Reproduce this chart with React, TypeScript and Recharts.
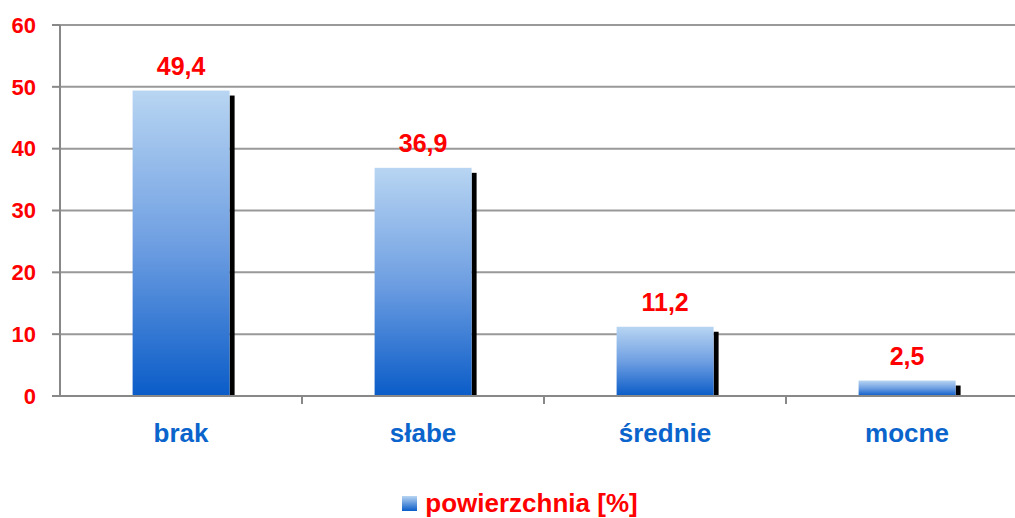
import { ComposedChart, Bar, XAxis, YAxis, CartesianGrid, LabelList, Legend } from 'recharts'

const categories = ['brak', 'słabe', 'średnie', 'mocne']
const values = [49.4, 36.9, 11.2, 2.5]
const yTicks = [0, 10, 20, 30, 40, 50, 60]
const seriesName = 'powierzchnia [%]'

const data = categories.map((name, i) => ({ name, value: values[i] }))

const CHART_W = 1028
const CHART_H = 518
const Y_AXIS_W = 60
const BAND = (CHART_W - Y_AXIS_W) / categories.length
const FONT = '"Liberation Sans", Arial, sans-serif'

function ShadowBar(props: any) {
  const { x, y, width, height } = props
  if (!height || height <= 0) return null
  const sh = Math.min(5, height)
  return (
    <g>
      <rect x={x + width} y={y + sh} width={5} height={height - sh} fill="#000" />
      <rect x={x} y={y} width={width} height={height} fill="url(#barGrad)" />
    </g>
  )
}

function CatTick(props: any) {
  const { x, y, payload } = props
  return (
    <g>
      <line x1={x + BAND / 2} x2={x + BAND / 2} y1={y} y2={y + 8} stroke="#888" strokeWidth={2} />
      <text x={x} y={y + 46} textAnchor="middle" fill="#0a64cc" fontSize={26} fontWeight="bold" fontFamily={FONT}>
        {payload.value}
      </text>
    </g>
  )
}

function LegendBox() {
  return (
    <div
      style={{
        height: 30,
        paddingTop: 28,
        paddingLeft: 12,
        display: 'flex',
        justifyContent: 'center',
        alignItems: 'center',
        fontFamily: FONT,
      }}
    >
      <svg width={15} height={15} style={{ marginRight: 8 }}>
        <defs>
          <linearGradient id="legGrad" x1="0" y1="0" x2="0" y2="1">
            <stop offset="0%" stopColor="#b8d5f2" />
            <stop offset="100%" stopColor="#0a5cc8" />
          </linearGradient>
        </defs>
        <rect x={0} y={0} width={15} height={15} fill="url(#legGrad)" />
      </svg>
      <span style={{ color: '#ff0000', fontSize: 26, fontWeight: 'bold' }}>{seriesName}</span>
    </div>
  )
}

export default function App() {
  return (
    <div style={{ position: 'absolute', left: 0, top: 0, width: 1015, height: 518, overflow: 'hidden', background: '#fff' }}>
      <ComposedChart
        width={CHART_W}
        height={CHART_H}
        data={data}
        margin={{ top: 25, right: 0, left: 0, bottom: 0 }}
        barCategoryGap="30%"
      >
        <defs>
          <linearGradient id="barGrad" x1="0" y1="0" x2="0" y2="1">
            <stop offset="0%" stopColor="#b8d5f2" />
            <stop offset="50%" stopColor="#6f9fe2" />
            <stop offset="100%" stopColor="#0a5cc8" />
          </linearGradient>
        </defs>
        <CartesianGrid vertical={false} stroke="#999" strokeWidth={2} />
        <XAxis
          dataKey="name"
          axisLine={{ stroke: '#888', strokeWidth: 2 }}
          tickLine={false}
          tickSize={0}
          tickMargin={0}
          height={64}
          interval={0}
          tick={<CatTick />}
        />
        <YAxis
          domain={[0, 60]}
          ticks={yTicks}
          width={Y_AXIS_W}
          axisLine={{ stroke: '#888', strokeWidth: 2 }}
          tickLine={{ stroke: '#888', strokeWidth: 2 }}
          tickSize={8}
          tickMargin={16}
          tick={{ fill: '#ff0000', fontSize: 22, fontWeight: 'bold', fontFamily: FONT }}
        />
        <Legend verticalAlign="bottom" content={() => <LegendBox />} />
        <Bar dataKey="value" name={seriesName} shape={<ShadowBar />} isAnimationActive={false}>
          <LabelList
            dataKey="value"
            position="top"
            offset={16}
            formatter={(v: any) => String(v).replace('.', ',')}
            fill="#ff0000"
            fontSize={25}
            fontWeight="bold"
            fontFamily={FONT}
          />
        </Bar>
      </ComposedChart>
    </div>
  )
}
